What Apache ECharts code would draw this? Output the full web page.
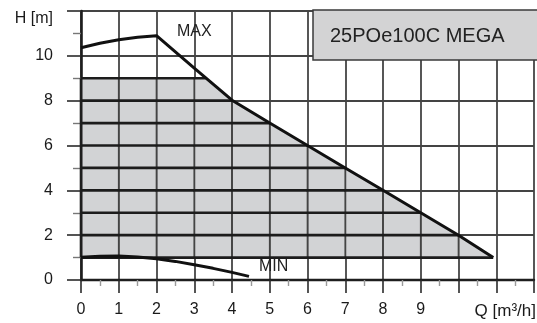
<!DOCTYPE html>
<html><head><meta charset="utf-8">
<script src="https://cdn.jsdelivr.net/npm/echarts@6/dist/echarts.min.js"></script>
<style>html,body{margin:0;padding:0;background:#fff}#c{width:537px;height:323px}</style>
</head><body><div id="c"></div>
<script>
// ---- data ----
const xMax = 12, yMax = 12;
const xLabelMax = 9;     // x tick labels shown 0..9
const yLabelMax = 10;    // y tick labels shown 0..10
const maxCurve = [[0,10.36],[0.5,10.56],[1,10.72],[1.5,10.83],[2,10.9],[3,9.45],[4,8.02],[5,7],[6,6],[7,5],[8,4],[9,3],[10,2],[10.92,1]];
const minCurve = [[0,1.02],[0.5,1.06],[1,1.07],[1.5,1.03],[2,0.95],[2.5,0.83],[3,0.68],[3.5,0.52],[4,0.34],[4.45,0.16]];
const regionBase = 1;
const regionTop = [[0,9],[3.3,9],[4,8.02],[5,7],[6,6],[7,5],[8,4],[9,3],[10,2],[10.92,1]];
const levels = [1,2,3,4,5,6,7,8,9];
const levelEnds = [10.92,10,9,8,7,6,5,4,3.3];
const gridQ = [0,1,2,3,4,5,6,7,8,9,10];   // grid columns crossing the shaded region
const titleText = '25POe100C MEGA';
const yName = 'H [m]';
const xName = 'Q [m³/h]';

const FONT = '"Liberation Sans", Arial, sans-serif';
const chart = echarts.init(document.getElementById('c'));
const axisText = {color:'#1a1a1a', fontSize:16, fontFamily:FONT};
const regionEnd = regionTop[regionTop.length - 1][0];

function topAt(x) {
  for (let i = 0; i < regionTop.length - 1; i++) {
    const a = regionTop[i], b = regionTop[i + 1];
    if (x >= a[0] && x <= b[0]) return a[1] + (b[1] - a[1]) * (x - a[0]) / (b[0] - a[0]);
  }
  return regionBase;
}

chart.setOption({
  animation:false,
  grid:{left:81, right:0, top:11, bottom:43, containLabel:false},
  xAxis:{
    type:'value', min:0, max:xMax, interval:1,
    axisLine:{show:true, onZero:true, lineStyle:{color:'#1e1e1e', width:2.4}},
    axisTick:{show:true, length:13, lineStyle:{color:'#2a2a2a', width:1.6}},
    minorTick:{show:true, splitNumber:2, length:6, lineStyle:{color:'#999', width:1.4}},
    splitLine:{show:true, lineStyle:{color:'#444', width:1.8}},
    axisLabel:Object.assign({margin:22, formatter:v => v <= xLabelMax ? String(v) : ''}, axisText)
  },
  yAxis:{
    type:'value', min:0, max:yMax, interval:2,
    axisLine:{show:true, lineStyle:{color:'#1e1e1e', width:2.6}},
    axisTick:{show:true, length:14, lineStyle:{color:'#2a2a2a', width:1.6}},
    minorTick:{show:true, splitNumber:2, length:8, lineStyle:{color:'#777', width:1.4}},
    splitLine:{show:true, lineStyle:{color:'#444', width:1.8}},
    axisLabel:Object.assign({margin:28, formatter:v => v <= yLabelMax ? String(v) : ''}, axisText)
  },
  graphic:[
    {type:'rect', z:20, shape:{x:313, y:10, width:240, height:50}, style:{fill:'#d3d3d4', stroke:'#3a3a3a', lineWidth:1.5}},
    {type:'text', z:21, x:330, y:36, style:{text:titleText, fill:'#222', font:'20px ' + FONT, textVerticalAlign:'middle', textAlign:'left'}},
    {type:'text', z:21, x:177, y:32, style:{text:'MAX', fill:'#222', font:'16px ' + FONT, textVerticalAlign:'middle'}},
    {type:'text', z:21, x:259, y:267, style:{text:'MIN', fill:'#222', font:'16px ' + FONT, textVerticalAlign:'middle'}},
    {type:'text', z:21, x:53, y:19, style:{text:yName, fill:'#1a1a1a', font:'16px ' + FONT, textVerticalAlign:'middle', textAlign:'right'}},
    {type:'text', z:21, x:536, y:311, style:{text:xName, fill:'#1a1a1a', font:'17px ' + FONT, textVerticalAlign:'middle', textAlign:'right'}}
  ],
  series:[
    {
      // shaded operating field, drawn as one strip per grid column, leaving the grid lines uncovered
      type:'custom', z:3, data: gridQ.map(q => [q, regionBase]),
      renderItem:(params, api) => {
        const q = api.value(0);
        const unit = api.size([1, 0])[0];
        const a = q + (q === 0 ? 1.4 : 0.9) / unit;
        const isLast = q + 1 >= regionEnd;
        const b = isLast ? regionEnd : q + 1 - 0.9 / unit;
        if (b <= a) return null;
        const pts = [[a, regionBase], [a, topAt(a)]];
        regionTop.forEach(p => { if (p[0] > a && p[0] < b) pts.push(p); });
        pts.push([b, topAt(b)], [b, regionBase]);
        return {type:'polygon', shape:{points:pts.map(p => api.coord(p))}, style:{fill:'#d2d3d5'}};
      }
    },
    {
      type:'custom', z:11, data: levels.map((h, i) => [levelEnds[i], h]),
      renderItem:(params, api) => {
        const e = api.value(0), h = api.value(1);
        const p0 = api.coord([0, h]), p1 = api.coord([e, h]);
        return {type:'line', shape:{x1:p0[0], y1:p0[1], x2:p1[0], y2:p1[1]}, style:{stroke:'#1c1c1c', lineWidth:2.6}};
      }
    },
    {type:'line', z:12, data:maxCurve, symbol:'none', smooth:false, lineStyle:{color:'#111', width:3}},
    {type:'line', z:12, data:minCurve, symbol:'none', smooth:false, lineStyle:{color:'#111', width:3}},
    {
      type:'custom', z:10, data: gridQ.map(q => [q, topAt(q)]),
      renderItem:(params, api) => {
        const q = api.value(0), t = api.value(1);
        const p0 = api.coord([q, regionBase]), p1 = api.coord([q, t]);
        return {type:'line', shape:{x1:p0[0], y1:p0[1], x2:p1[0], y2:p1[1]},
          style:{stroke: q === 0 ? '#1e1e1e' : '#444', lineWidth: q === 0 ? 2.6 : 1.8}};
      }
    }
  ]
});
</script></body></html>
